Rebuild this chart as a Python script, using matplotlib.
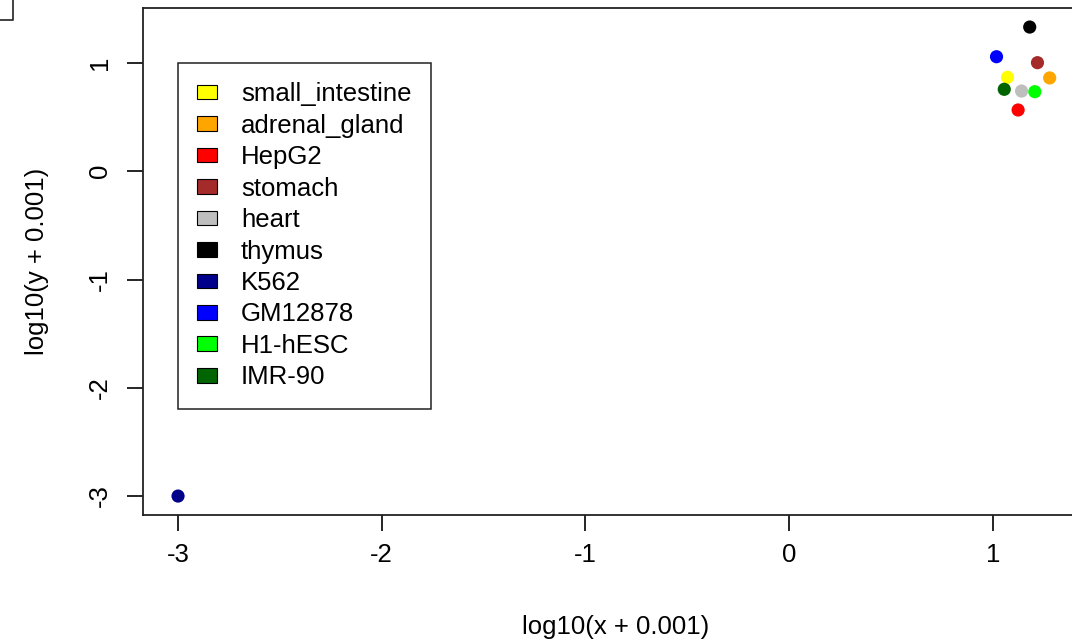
import matplotlib
matplotlib.use("Agg")
import matplotlib.pyplot as plt
from matplotlib.patches import Patch
from matplotlib.lines import Line2D

plt.rcParams['font.family'] = ['Liberation Sans', 'DejaVu Sans']

samples = ["small_intestine", "adrenal_gland", "HepG2", "stomach", "heart",
           "thymus", "K562", "GM12878", "H1-hESC", "IMR-90"]
colors = ["#FFFF00", "#FFA500", "#FF0000", "#A52A2A", "#BEBEBE",
          "#000000", "#00008B", "#0000FF", "#00FF00", "#006400"]
log_x = [1.072, 1.279, 1.124, 1.219, 1.141, 1.181, -3.0, 1.018, 1.206, 1.056]
log_y = [0.868, 0.862, 0.566, 1.003, 0.741, 1.332, -3.0, 1.058, 0.735, 0.757]
x_ticks = [-3, -2, -1, 0, 1]
y_ticks = [-3, -2, -1, 0, 1]

FS = 18.5
W, H = 1072, 641
fig = plt.figure(figsize=(W / 100, H / 100), dpi=100)
ax = fig.add_axes([143 / W, 1 - 515 / H, 946 / W, 507 / H])

ax.scatter(log_x, log_y, c=colors, s=90, linewidths=0, zorder=3)

ax.set_xlim(-3.172, 1.472)
ax.set_ylim(-3.175, 1.508)
ax.set_xticks(x_ticks)
ax.set_yticks(y_ticks)
ax.set_xticklabels([str(t) for t in x_ticks], fontsize=FS)
ax.set_yticklabels([str(t) for t in y_ticks], fontsize=FS, rotation=90, va='center')
ax.tick_params(axis='x', length=11.5, width=1.2, pad=9)
ax.tick_params(axis='y', length=11.5, width=1.2, pad=11)
for sp in ax.spines.values():
    sp.set_linewidth(1.3)
    sp.set_color('#222222')

ax.set_xlabel("log10(x + 0.001)", fontsize=FS)
ax.set_ylabel("log10(y + 0.001)", fontsize=FS)
ax.xaxis.set_label_coords(0.5, -112 / 507)
ax.xaxis.label.set_va('center')
ax.yaxis.set_label_coords(-106 / 946, 0.5)
ax.yaxis.label.set_va('center')

handles = [Patch(facecolor=c, edgecolor='black', linewidth=0.8) for c in colors]
leg = ax.legend(handles, samples, loc='upper left', bbox_to_anchor=(-3.0, 1.0),
                bbox_transform=ax.transData, fontsize=FS, frameon=True,
                fancybox=False, framealpha=1, edgecolor='#222222',
                handlelength=0.75, handleheight=0.5, handletextpad=0.95,
                labelspacing=0.29, borderpad=0.75, borderaxespad=0)
leg.get_frame().set_linewidth(1.1)

# stray corner mark at the top left of the canvas
fig.add_artist(Line2D([0, 13 / W, 13 / W], [1 - 20 / H, 1 - 20 / H, 1],
                      transform=fig.transFigure, color='#333333', lw=1.3))

fig.savefig("out.png", dpi=100)
